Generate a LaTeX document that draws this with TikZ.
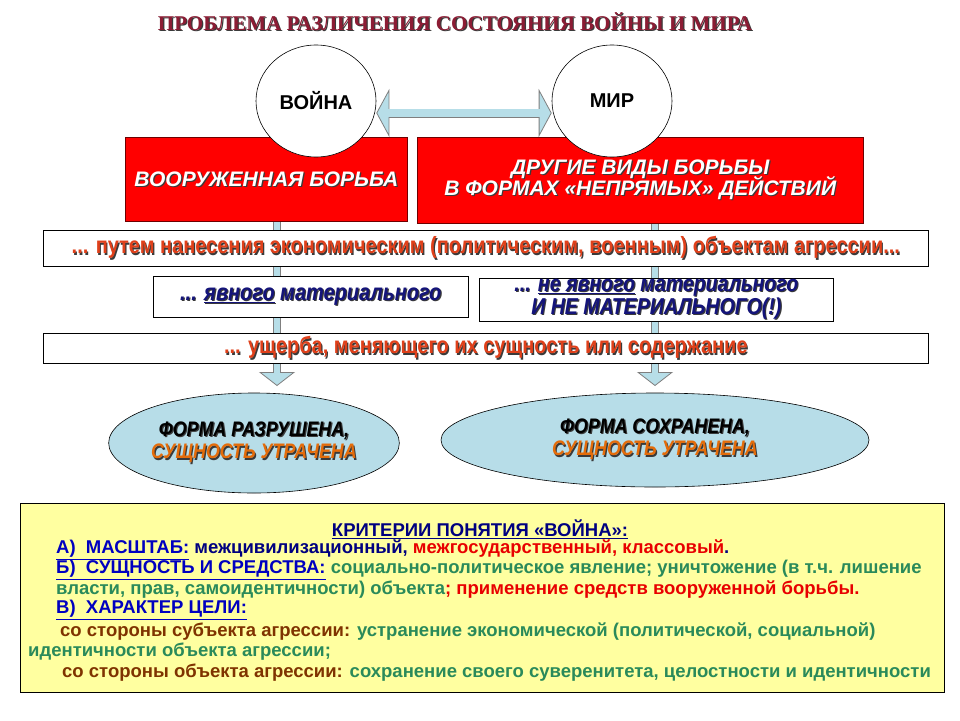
\documentclass[tikz,border=0pt]{standalone}
\usepackage{fontspec}
\setmainfont{Liberation Sans}
\newfontfamily\titlefont{Liberation Serif}
\newfontfamily\narrowfont[FakeStretch=0.85]{Liberation Sans}
\usetikzlibrary{positioning, arrows.meta, shapes.geometric, backgrounds}
\definecolor{titleRed}{HTML}{8C1C34}
\definecolor{boxRed}{HTML}{FF0000}
\definecolor{boxRedB}{HTML}{6E0000}
\definecolor{barBlue}{HTML}{B7DEE8}
\definecolor{barEdge}{HTML}{7F7F7F}
\definecolor{ovalBlue}{HTML}{B7DDE8}
\definecolor{shadowGray}{HTML}{3A3A3A}
\definecolor{hitRed}{HTML}{E0401A}
\definecolor{navyTxt}{HTML}{14147A}
\definecolor{lossOrange}{HTML}{E46C0A}
\definecolor{critYellow}{HTML}{FFFFA0}
\definecolor{critNavy}{HTML}{000080}
\definecolor{critBlue}{HTML}{0000C0}
\definecolor{critRed}{HTML}{E80000}
\definecolor{critGreen}{HTML}{2A8A5A}
\definecolor{critBrown}{HTML}{7F3300}
\newcommand{\shd}[2]{\leavevmode\rlap{\kern1.2pt\raisebox{-1.2pt}{\color{shadowGray}#2}}{\color{#1}#2}}
\newcommand{\tightlines}{\setlength{\lineskiplimit}{-20pt}}

\begin{document}
\begin{tikzpicture}[x=1pt, y=-1pt,
  redbox/.style={draw=boxRedB, fill=boxRed, line width=0.8pt, anchor=north west, align=center, font=\bfseries\itshape\fontsize{21}{21.5}\selectfont\tightlines},
  circ/.style={ellipse, draw, fill=white, line width=0.6pt, inner sep=0pt, minimum width=120pt, minimum height=112pt, font=\bfseries\fontsize{20}{22}\selectfont},
  wbox/.style={draw, fill=white, line width=0.6pt, anchor=north west, align=center, font=\narrowfont\bfseries\fontsize{23.5}{23}\selectfont},
  oval/.style={ellipse, draw, fill=ovalBlue, line width=0.6pt, inner sep=0pt, align=center, font=\narrowfont\bfseries\itshape\fontsize{21}{22.5}\selectfont\tightlines},
  crit/.style={anchor=west, inner sep=0pt, font=\bfseries\fontsize{18.5}{20}\selectfont},
  bar/.style={line width=8pt, draw=barEdge, -{Triangle[length=14pt, width=36pt, fill=barBlue, line width=0.8pt]}, postaction={draw=barBlue, line width=6.4pt, -, shorten >=12pt}},
  dbl/.style={line width=9pt, draw=barEdge, {Triangle[length=13pt, width=48pt, fill=barBlue, line width=0.8pt]}-{Triangle[length=13pt, width=48pt, fill=barBlue, line width=0.8pt]}, postaction={draw=barBlue, line width=7.4pt, -, shorten <=11pt, shorten >=11pt}}]
\useasboundingbox (0,0) rectangle (960,720);
% title
\node[font=\titlefont\bfseries\fontsize{21}{24}\selectfont] (title) at (455,22) {\shd{titleRed}{ПРОБЛЕМА РАЗЛИЧЕНИЯ СОСТОЯНИЯ ВОЙНЫ И МИРА}};
% two kinds of struggle
\node[redbox, minimum width=282pt, minimum height=84pt] (armed) at (125,137) {\shd{white}{ВООРУЖЕННАЯ БОРЬБА}};
\node[redbox, minimum width=446pt, minimum height=86pt, right=9pt of armed.north east, anchor=north west] (other) {\shd{white}{ДРУГИЕ ВИДЫ БОРЬБЫ}\\\shd{white}{В ФОРМАХ «НЕПРЯМЫХ» ДЕЙСТВИЙ}};
\node[circ] (war) at (316,101) {ВОЙНА};
\node[circ] (peace) at (612,101) {МИР};
\draw[dbl] (war.east |- 0,113) -- (peace.west |- 0,113);
% damage chain
\node[wbox, minimum width=885pt, minimum height=36pt] (hit) at (43,230) {\shd{hitRed}{... путем нанесения экономическим (политическим, военным) объектам агрессии...}};
\node[wbox, minimum width=315pt, minimum height=41pt, font=\narrowfont\bfseries\itshape\fontsize{23.5}{23}\selectfont] (expl) at (153,276) {\shd{navyTxt}{... \underline{явного} материального}};
\node[wbox, minimum width=354pt, minimum height=42pt, inner sep=1pt, font=\narrowfont\bfseries\itshape\fontsize{23}{22.5}\selectfont\tightlines] (impl) at (479,278) {\shd{navyTxt}{... \underline{не явного} материального}\\\shd{navyTxt}{И НЕ МАТЕРИАЛЬНОГО(!)}};
\node[wbox, minimum width=885pt, minimum height=27pt] (dmg) at (43,333) {\shd{hitRed}{... ущерба, меняющего их сущность или содержание}};
% outcomes
\node[oval, minimum width=280pt, minimum height=100pt] (formL) at (254,443) {\shd{black}{ФОРМА РАЗРУШЕНА,}\\\shd{lossOrange}{СУЩНОСТЬ УТРАЧЕНА}};
\node[oval, minimum width=428pt, minimum height=94pt] (formR) at (655,440) {\shd{black}{ФОРМА СОХРАНЕНА,}\\\shd{lossOrange}{СУЩНОСТЬ УТРАЧЕНА}};
\coordinate (ta) at (277,221);
\coordinate (ha) at (277,386);
\coordinate (tb) at (655,224);
\coordinate (hb) at (655,386);
\begin{scope}[on background layer]
\fill[white] (0,0) rectangle (960,720);
\draw[bar] (ta) -- (ha);
\draw[bar] (tb) -- (hb);
\end{scope}
% criteria
\node[draw, fill=critYellow, line width=0.6pt, anchor=north west, minimum width=924pt, minimum height=189pt] (crit) at (20,503) {};
\node[crit, anchor=center] (k0) at (480,529) {\textcolor{critNavy}{\underline{КРИТЕРИИ ПОНЯТИЯ «ВОЙНА»:}}};
\node[crit] (k1) at (56,550) {\textcolor{critBlue}{\underline{А)\ \ МАСШТАБ:}} \textcolor{critNavy}{межцивилизационный,} \textcolor{critRed}{межгосударственный, классовый}\textcolor{critNavy}{.}};
\node[crit] (k2) at (56,570) {\textcolor{critBlue}{\underline{Б)\ \ СУЩНОСТЬ И СРЕДСТВА:}} \textcolor{critGreen}{социально-политическое явление; уничтожение (в т.ч. лишение}};
\node[crit] (k3) at (56,590) {\textcolor{critGreen}{власти, прав, самоидентичности) объекта}\textcolor{critRed}{; применение средств вооруженной борьбы.}};
\node[crit] (k4) at (56,610) {\textcolor{critBlue}{\underline{В)\ \ ХАРАКТЕР ЦЕЛИ:}}};
\node[crit] (k5) at (60,632) {\textcolor{critBrown}{со стороны субъекта агрессии:} \textcolor{critGreen}{устранение экономической (политической, социальной)}};
\node[crit] (k6) at (28,652) {\textcolor{critGreen}{идентичности объекта агрессии;}};
\node[crit] (k7) at (62,673) {\textcolor{critBrown}{со стороны объекта агрессии:} \textcolor{critGreen}{сохранение своего суверенитета, целостности и идентичности}};
\end{tikzpicture}
\end{document}
